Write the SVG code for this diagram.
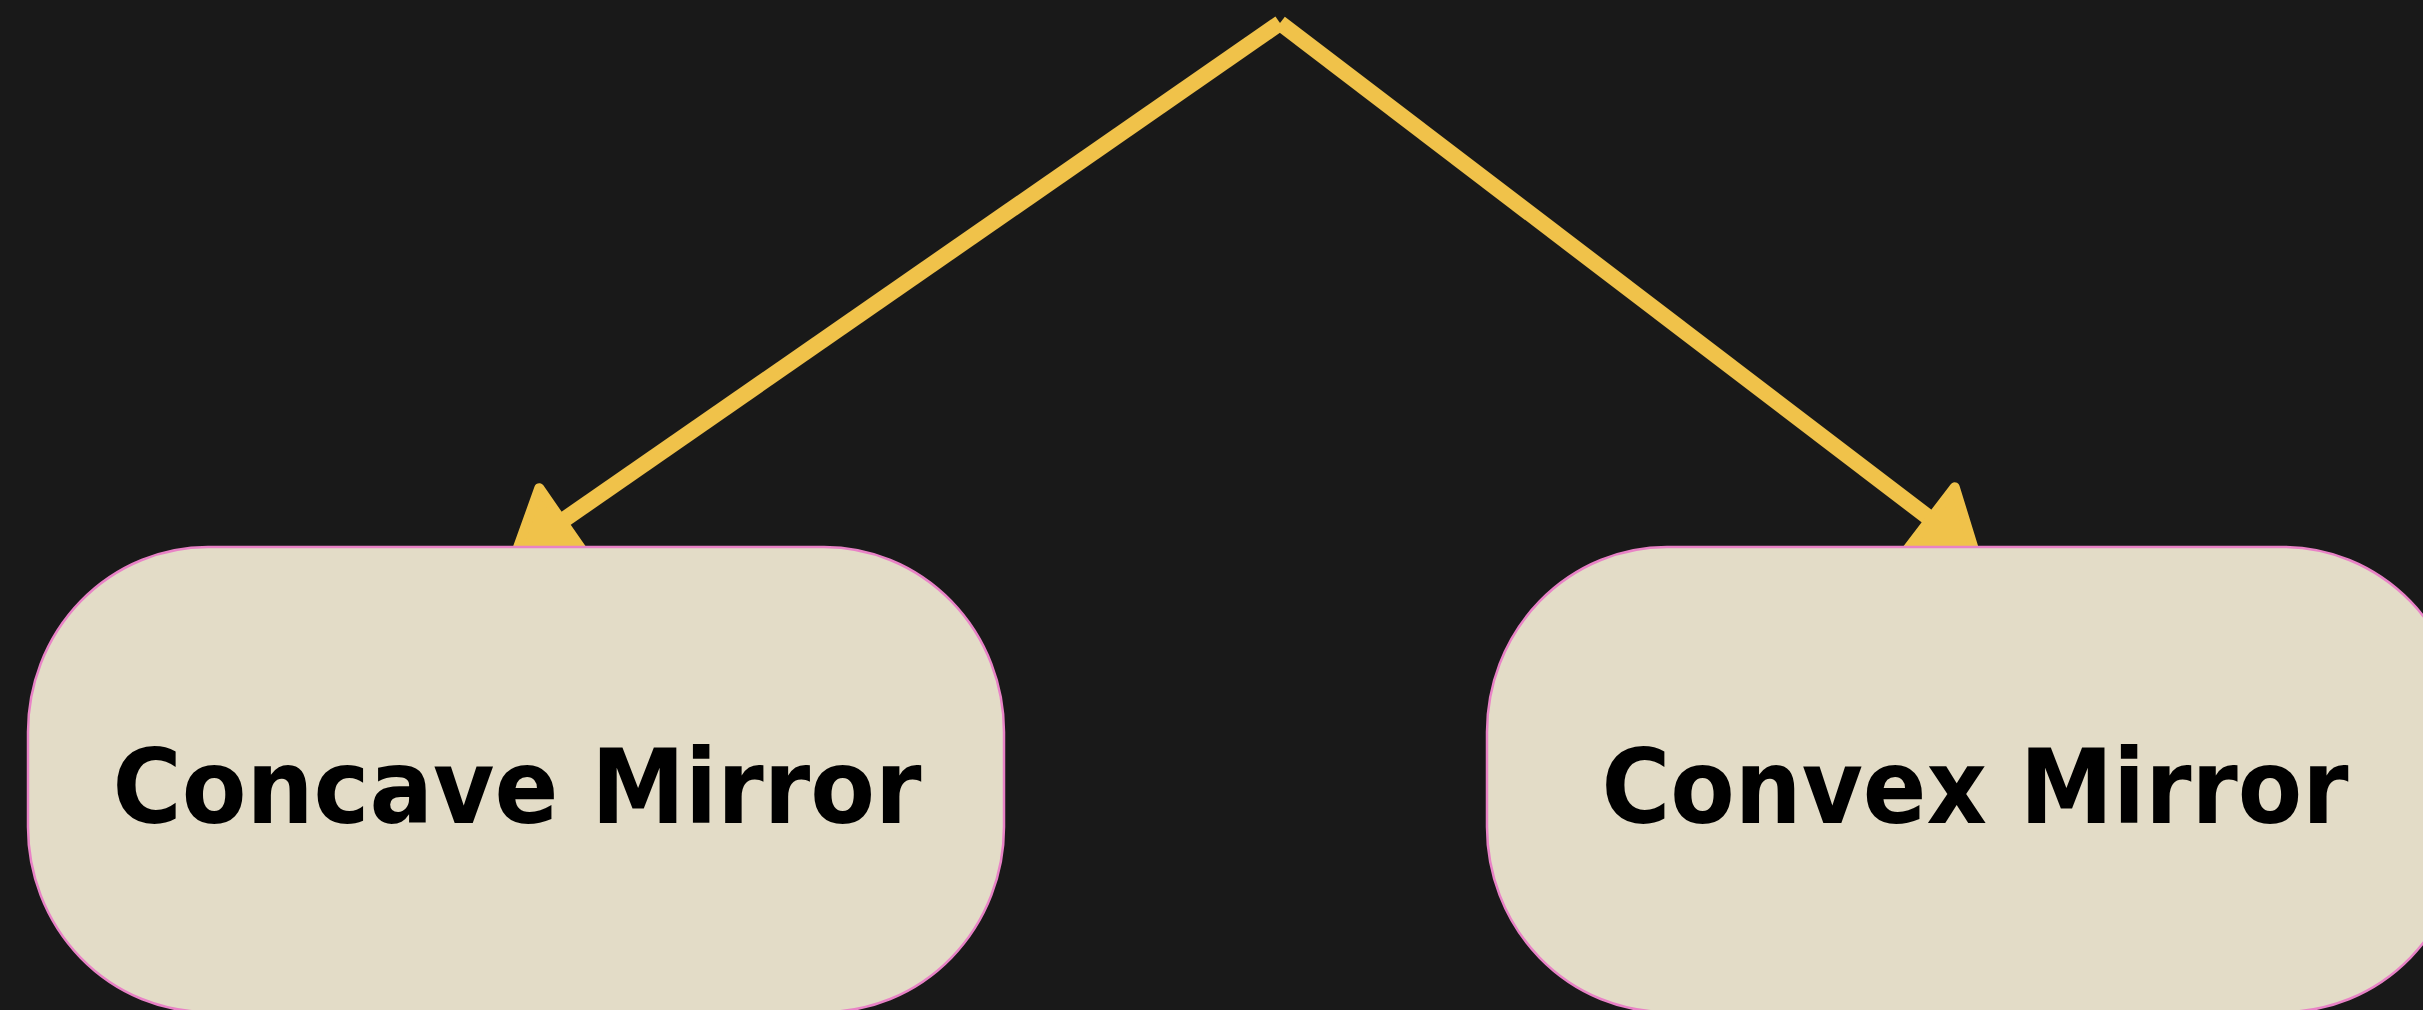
<svg xmlns="http://www.w3.org/2000/svg" width="2423" height="1010" viewBox="0 0 2423 1010">
<style>
.node{fill:#e3dcc7;stroke:#e882c6;stroke-width:2.5}
.label{font-family:"DejaVu Sans","Liberation Sans",sans-serif;font-weight:700;font-size:103px;fill:#000;text-anchor:middle}
.edge{stroke:#f0c24a;stroke-width:16;fill:none;stroke-linecap:butt}
</style>
<defs>
<marker id="arrow" markerUnits="userSpaceOnUse" orient="auto" refX="0" refY="0" markerWidth="120" markerHeight="120" overflow="visible">
<path d="M40,0 L-16,-40 L-16,40 Z" fill="#f0c24a" stroke="#f0c24a" stroke-width="10" stroke-linejoin="round"/>
</marker>
</defs>
<rect width="2423" height="1010" fill="#191919"/>
<g id="connectors">
<line class="edge" x1="1280" y1="23" x2="548.9" y2="530.2" marker-end="url(#arrow)"/>
<line class="edge" x1="1280" y1="23" x2="1943.2" y2="528.7" marker-end="url(#arrow)"/>
</g>
<g id="node-concave">
<rect class="node" x="28" y="547" width="976" height="465" rx="180" ry="185"/>
<text class="label" x="517" y="823" textLength="809" lengthAdjust="spacingAndGlyphs">Concave Mirror</text>
</g>
<g id="node-convex">
<rect class="node" x="1487" y="547" width="976" height="465" rx="180" ry="185"/>
<text class="label" x="1975" y="823" textLength="747" lengthAdjust="spacingAndGlyphs">Convex Mirror</text>
</g>
</svg>
